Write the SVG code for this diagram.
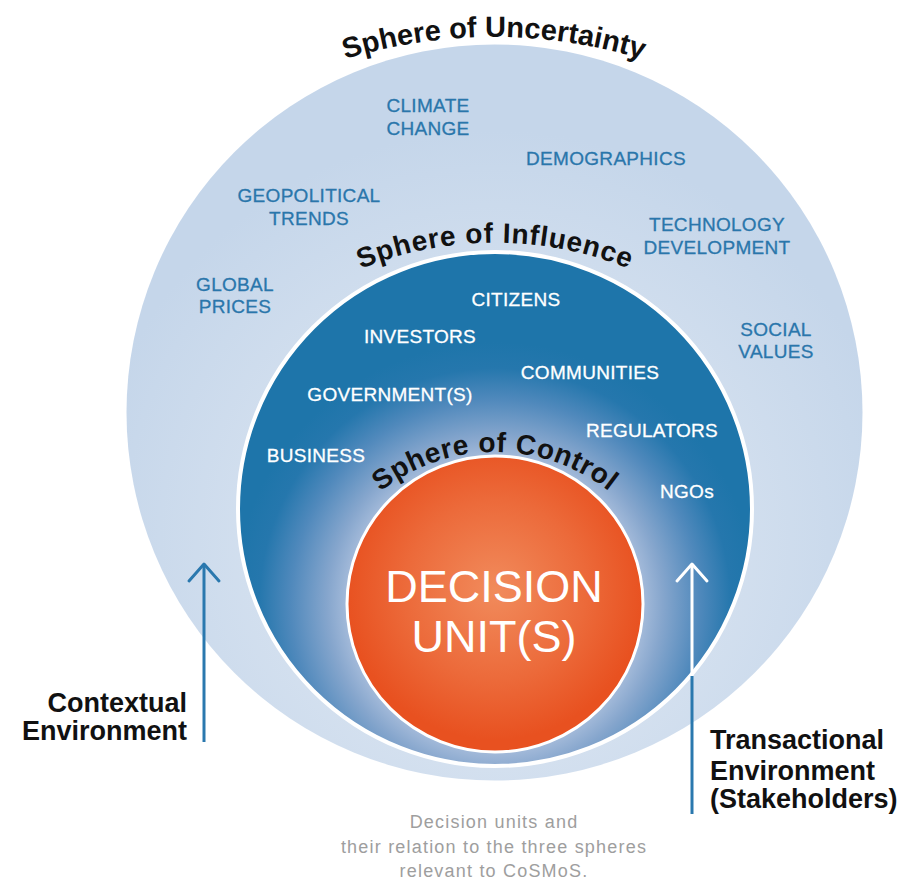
<svg xmlns="http://www.w3.org/2000/svg" width="921" height="886" viewBox="0 0 921 886">
  <defs>
    <radialGradient id="gOuter" gradientUnits="userSpaceOnUse" cx="494" cy="540" r="410">
      <stop offset="0" stop-color="#e5ecf5"/>
      <stop offset="1" stop-color="#c5d6ea"/>
    </radialGradient>
    <radialGradient id="gMid" gradientUnits="userSpaceOnUse" cx="495" cy="604" r="262">
      <stop offset="0" stop-color="#c3d2e7"/>
      <stop offset="0.55" stop-color="#a9bedc"/>
      <stop offset="0.64" stop-color="#86a6cd"/>
      <stop offset="0.78" stop-color="#5089bc"/>
      <stop offset="0.9" stop-color="#2577ad"/>
      <stop offset="1" stop-color="#1e75aa"/>
    </radialGradient>
    <radialGradient id="gInner" gradientUnits="userSpaceOnUse" cx="495" cy="590" r="150">
      <stop offset="0" stop-color="#f18b5c"/>
      <stop offset="0.6" stop-color="#ec6a3a"/>
      <stop offset="1" stop-color="#e85120"/>
    </radialGradient>
    <path id="arcU" d="M 94 233 A 506 506 0 0 1 894 233"/>
    <path id="arcI" d="M 195 407 A 356 356 0 0 1 795 407"/>
    <path id="arcC" d="M 310 637 A 185 185 0 0 1 680 637"/>
    <marker id="chevBlue" markerUnits="userSpaceOnUse" markerWidth="44" markerHeight="44" viewBox="-22 -22 44 44" refX="0" refY="0" orient="auto" overflow="visible">
      <path d="M -17 -15 L 0 0 L -17 15" fill="none" stroke="#2a78ae" stroke-width="3" stroke-linecap="round" stroke-linejoin="round"/>
    </marker>
    <marker id="chevWhite" markerUnits="userSpaceOnUse" markerWidth="44" markerHeight="44" viewBox="-22 -22 44 44" refX="0" refY="0" orient="auto" overflow="visible">
      <path d="M -17 -15 L 0 0 L -17 15" fill="none" stroke="#ffffff" stroke-width="3" stroke-linecap="round" stroke-linejoin="round"/>
    </marker>
  </defs>
  <style>
    .title { font-family: "Liberation Sans", Arial, sans-serif; font-weight: bold; fill: #111111; }
    .outerLbl { font-family: "Liberation Sans", Arial, sans-serif; font-size: 19px; fill: #2a76ab; text-anchor: middle; letter-spacing: 0.3px; stroke: #2a76ab; stroke-width: 0.3px; }
    .innerLbl { font-family: "Liberation Sans", Arial, sans-serif; font-size: 19px; fill: #ffffff; text-anchor: middle; letter-spacing: 0.3px; stroke: #ffffff; stroke-width: 0.3px; }
    .side { font-family: "Liberation Sans", Arial, sans-serif; font-weight: bold; font-size: 27px; fill: #111111; }
    .caption { font-family: "Liberation Sans", Arial, sans-serif; font-size: 18px; fill: #9e9e9e; text-anchor: middle; letter-spacing: 1.2px; }
  </style>
  <rect x="0" y="0" width="921" height="886" fill="#ffffff"/>

  <g id="sphere-uncertainty">
    <circle cx="494.5" cy="412.5" r="368" fill="url(#gOuter)"/>
    <text class="title" font-size="29"><textPath href="#arcU" startOffset="50%" text-anchor="middle">Sphere of Uncertainty</textPath></text>
    <text class="outerLbl" x="428" y="112">CLIMATE</text>
    <text class="outerLbl" x="428" y="135">CHANGE</text>
    <text class="outerLbl" x="606" y="165">DEMOGRAPHICS</text>
    <text class="outerLbl" x="309" y="202">GEOPOLITICAL</text>
    <text class="outerLbl" x="309" y="225">TRENDS</text>
    <text class="outerLbl" x="717" y="231">TECHNOLOGY</text>
    <text class="outerLbl" x="717" y="254">DEVELOPMENT</text>
    <text class="outerLbl" x="235" y="291">GLOBAL</text>
    <text class="outerLbl" x="235" y="313">PRICES</text>
    <text class="outerLbl" x="776" y="336">SOCIAL</text>
    <text class="outerLbl" x="776" y="358">VALUES</text>
  </g>

  <g id="sphere-influence">
    <circle cx="495" cy="509" r="257" fill="url(#gMid)" stroke="#ffffff" stroke-width="4"/>
    <text class="title" font-size="28" letter-spacing="0.8"><textPath href="#arcI" startOffset="50%" text-anchor="middle">Sphere of Influence</textPath></text>
    <text class="innerLbl" x="516" y="306">CITIZENS</text>
    <text class="innerLbl" x="420" y="343">INVESTORS</text>
    <text class="innerLbl" x="590" y="379">COMMUNITIES</text>
    <text class="innerLbl" x="390" y="401">GOVERNMENT(S)</text>
    <text class="innerLbl" x="652" y="437" font-size="18" letter-spacing="0">REGULATORS</text>
    <text class="innerLbl" x="316" y="462">BUSINESS</text>
    <text class="innerLbl" x="687" y="498">NGOs</text>
  </g>

  <g id="sphere-control">
    <circle cx="495" cy="604" r="148" fill="url(#gInner)" stroke="#ffffff" stroke-width="3"/>
    <text class="title" font-size="28" letter-spacing="0.6"><textPath href="#arcC" startOffset="50%" text-anchor="middle">Sphere of Control</textPath></text>
    <text x="494" y="602" font-family="'Liberation Sans', Arial, sans-serif" font-size="45" fill="#ffffff" text-anchor="middle">DECISION</text>
    <text x="494" y="652" font-family="'Liberation Sans', Arial, sans-serif" font-size="45" fill="#ffffff" text-anchor="middle">UNIT(S)</text>
  </g>

  <g id="connectors">
    <line x1="204" y1="742" x2="204" y2="564" stroke="#2a78ae" stroke-width="3" marker-end="url(#chevBlue)"/>
    <line x1="692" y1="814" x2="692" y2="676" stroke="#2a78ae" stroke-width="3"/>
    <line x1="692" y1="676" x2="692" y2="564" stroke="#ffffff" stroke-width="3" marker-end="url(#chevWhite)"/>
  </g>

  <g id="label-contextual">
    <text class="side" x="187" y="712" text-anchor="end">Contextual</text>
    <text class="side" x="187" y="740" text-anchor="end">Environment</text>
  </g>

  <g id="label-transactional">
    <text class="side" x="710" y="749">Transactional</text>
    <text class="side" x="710" y="780">Environment</text>
    <text class="side" x="710" y="808">(Stakeholders)</text>
  </g>

  <g id="caption">
    <text class="caption" x="494" y="828">Decision units and</text>
    <text class="caption" x="494" y="853">their relation to the three spheres</text>
    <text class="caption" x="494" y="877">relevant to CoSMoS.</text>
  </g>
</svg>
